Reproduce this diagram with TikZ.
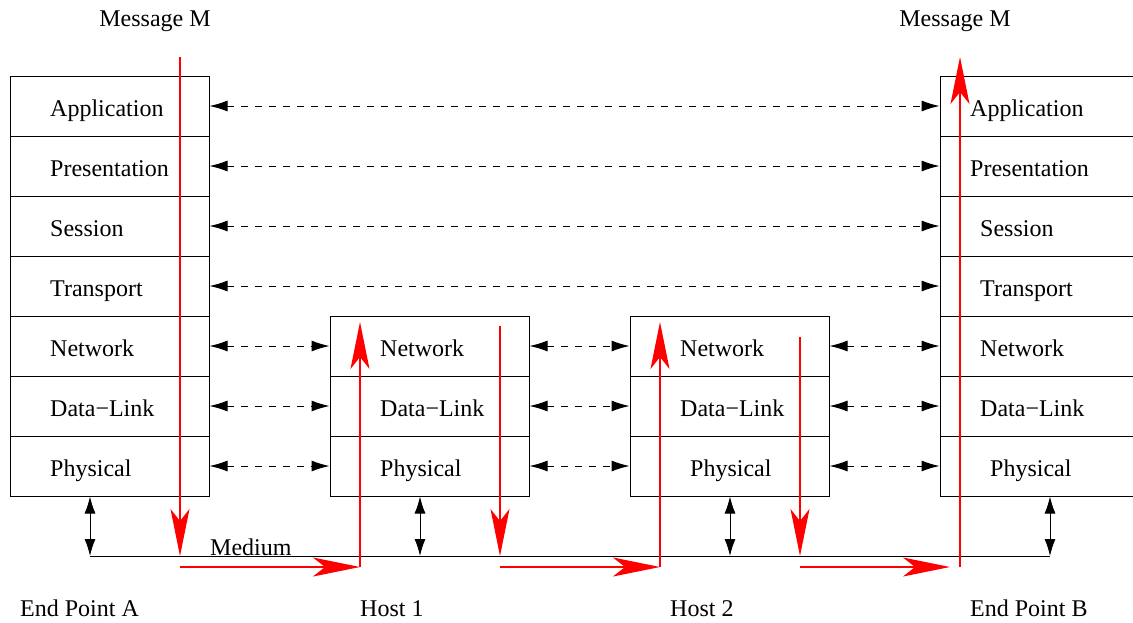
\documentclass[tikz,border=0pt]{standalone}
\usepackage{fontspec}
\setmainfont{Liberation Serif}
\usetikzlibrary{arrows.meta}
\begin{document}
\begin{tikzpicture}[x=1pt,y=-1pt,
  layer/.style={draw=black, line width=1pt, minimum width=199pt, minimum height=60pt, inner sep=0pt},
  lbl/.style={anchor=base west, inner sep=0pt, font=\fontsize{24pt}{28pt}\selectfont},
  msgcap/.style={anchor=base, inner sep=0pt, font=\fontsize{24pt}{28pt}\selectfont},
  peer/.style={{Latex[length=18pt,width=11pt]}-{Latex[length=18pt,width=11pt]}, line width=1pt, dash pattern=on 7pt off 7pt},
  phys/.style={{Latex[length=17pt,width=11pt]}-{Latex[length=17pt,width=11pt]}, line width=1pt},
  flow/.style={draw=red, line width=2pt, -{Stealth[length=47pt,width=19pt,inset=12pt,red]}}]
\useasboundingbox (0,0) rectangle (1133,622);
\clip (0,0) rectangle (1133,622);
% stacks
\foreach \i/\y in {1/106,2/166,3/226,4/286,5/346,6/406,7/466}{
  \node[layer] (a\i) at (109.5,\y) {};
  \node[layer] (b\i) at (1039.5,\y) {};
}
\foreach \i/\y in {5/346,6/406,7/466}{
  \node[layer] (p\i) at (429.5,\y) {};
  \node[layer] (q\i) at (729.5,\y) {};
}
% labels end point A
\node[lbl] (la1) at (50,116.5) {Application};
\node[lbl] (la2) at (50,176.5) {Presentation};
\node[lbl] (la3) at (50,236.5) {Session};
\node[lbl] (la4) at (50,296.5) {Transport};
\node[lbl] (la5) at (50,356.5) {Network};
\node[lbl] (la6) at (50,416.5) {Data−Link};
\node[lbl] (la7) at (50,476.5) {Physical};
% host 1
\node[lbl] (lp5) at (380,356.5) {Network};
\node[lbl] (lp6) at (380,416.5) {Data−Link};
\node[lbl] (lp7) at (380,476.5) {Physical};
% host 2
\node[lbl] (lq5) at (680,356.5) {Network};
\node[lbl] (lq6) at (680,416.5) {Data−Link};
\node[lbl] (lq7) at (690,476.5) {Physical};
% end point B
\node[lbl] (lb1) at (970,116.5) {Application};
\node[lbl] (lb2) at (970,176.5) {Presentation};
\node[lbl] (lb3) at (980,236.5) {Session};
\node[lbl] (lb4) at (980,296.5) {Transport};
\node[lbl] (lb5) at (980,356.5) {Network};
\node[lbl] (lb6) at (980,416.5) {Data−Link};
\node[lbl] (lb7) at (990,476.5) {Physical};
% captions
\node[msgcap] (mA) at (155,26) {Message M};
\node[msgcap] (mB) at (955,26) {Message M};
\node[lbl] (epA) at (20,616) {End Point A};
\node[lbl] (h1) at (360,616) {Host 1};
\node[lbl] (h2) at (670,616) {Host 2};
\node[lbl] (epB) at (970,616) {End Point B};
\node[lbl] (med) at (210,555) {Medium};
% peer arrows
\foreach \i in {1,2,3,4}{
  \draw[peer] (a\i.east) -- (b\i.west);
}
\foreach \i in {5,6,7}{
  \draw[peer] (a\i.east) -- (p\i.west);
  \draw[peer] (p\i.east) -- (q\i.west);
  \draw[peer] (q\i.east) -- (b\i.west);
}
% medium
\coordinate (m0) at (90,556);
\coordinate (m1) at (420,556);
\coordinate (m2) at (730,556);
\coordinate (m3) at (1050,556);
\draw[line width=1pt] (m0) -- (m3);
\draw[phys] (m0 |- a7.south) -- (m0);
\draw[phys] (m1 |- p7.south) -- (m1);
\draw[phys] (m2 |- q7.south) -- (m2);
\draw[phys] (m3 |- b7.south) -- (m3);
% message flow
\coordinate (s0) at (180,57);
\coordinate (d0) at (180,556);
\coordinate (c0) at (180,567);
\coordinate (c1) at (360,567);
\coordinate (t1) at (360,322);
\coordinate (s1) at (500,326);
\coordinate (d1) at (500,556);
\coordinate (c2) at (500,567);
\coordinate (c3) at (660,567);
\coordinate (t2) at (660,322);
\coordinate (s2) at (800,337);
\coordinate (d2) at (800,556);
\coordinate (c4) at (800,567);
\coordinate (c5) at (950,567);
\coordinate (c6) at (960,567);
\coordinate (t3) at (960,57);
\draw[flow] (s0) -- (d0);
\draw[flow] (c0) -- (c1);
\draw[flow] (c1) -- (t1);
\draw[flow] (s1) -- (d1);
\draw[flow] (c2) -- (c3);
\draw[flow] (c3) -- (t2);
\draw[flow] (s2) -- (d2);
\draw[flow] (c4) -- (c5);
\draw[flow] (c6) -- (t3);
\end{tikzpicture}
\end{document}
